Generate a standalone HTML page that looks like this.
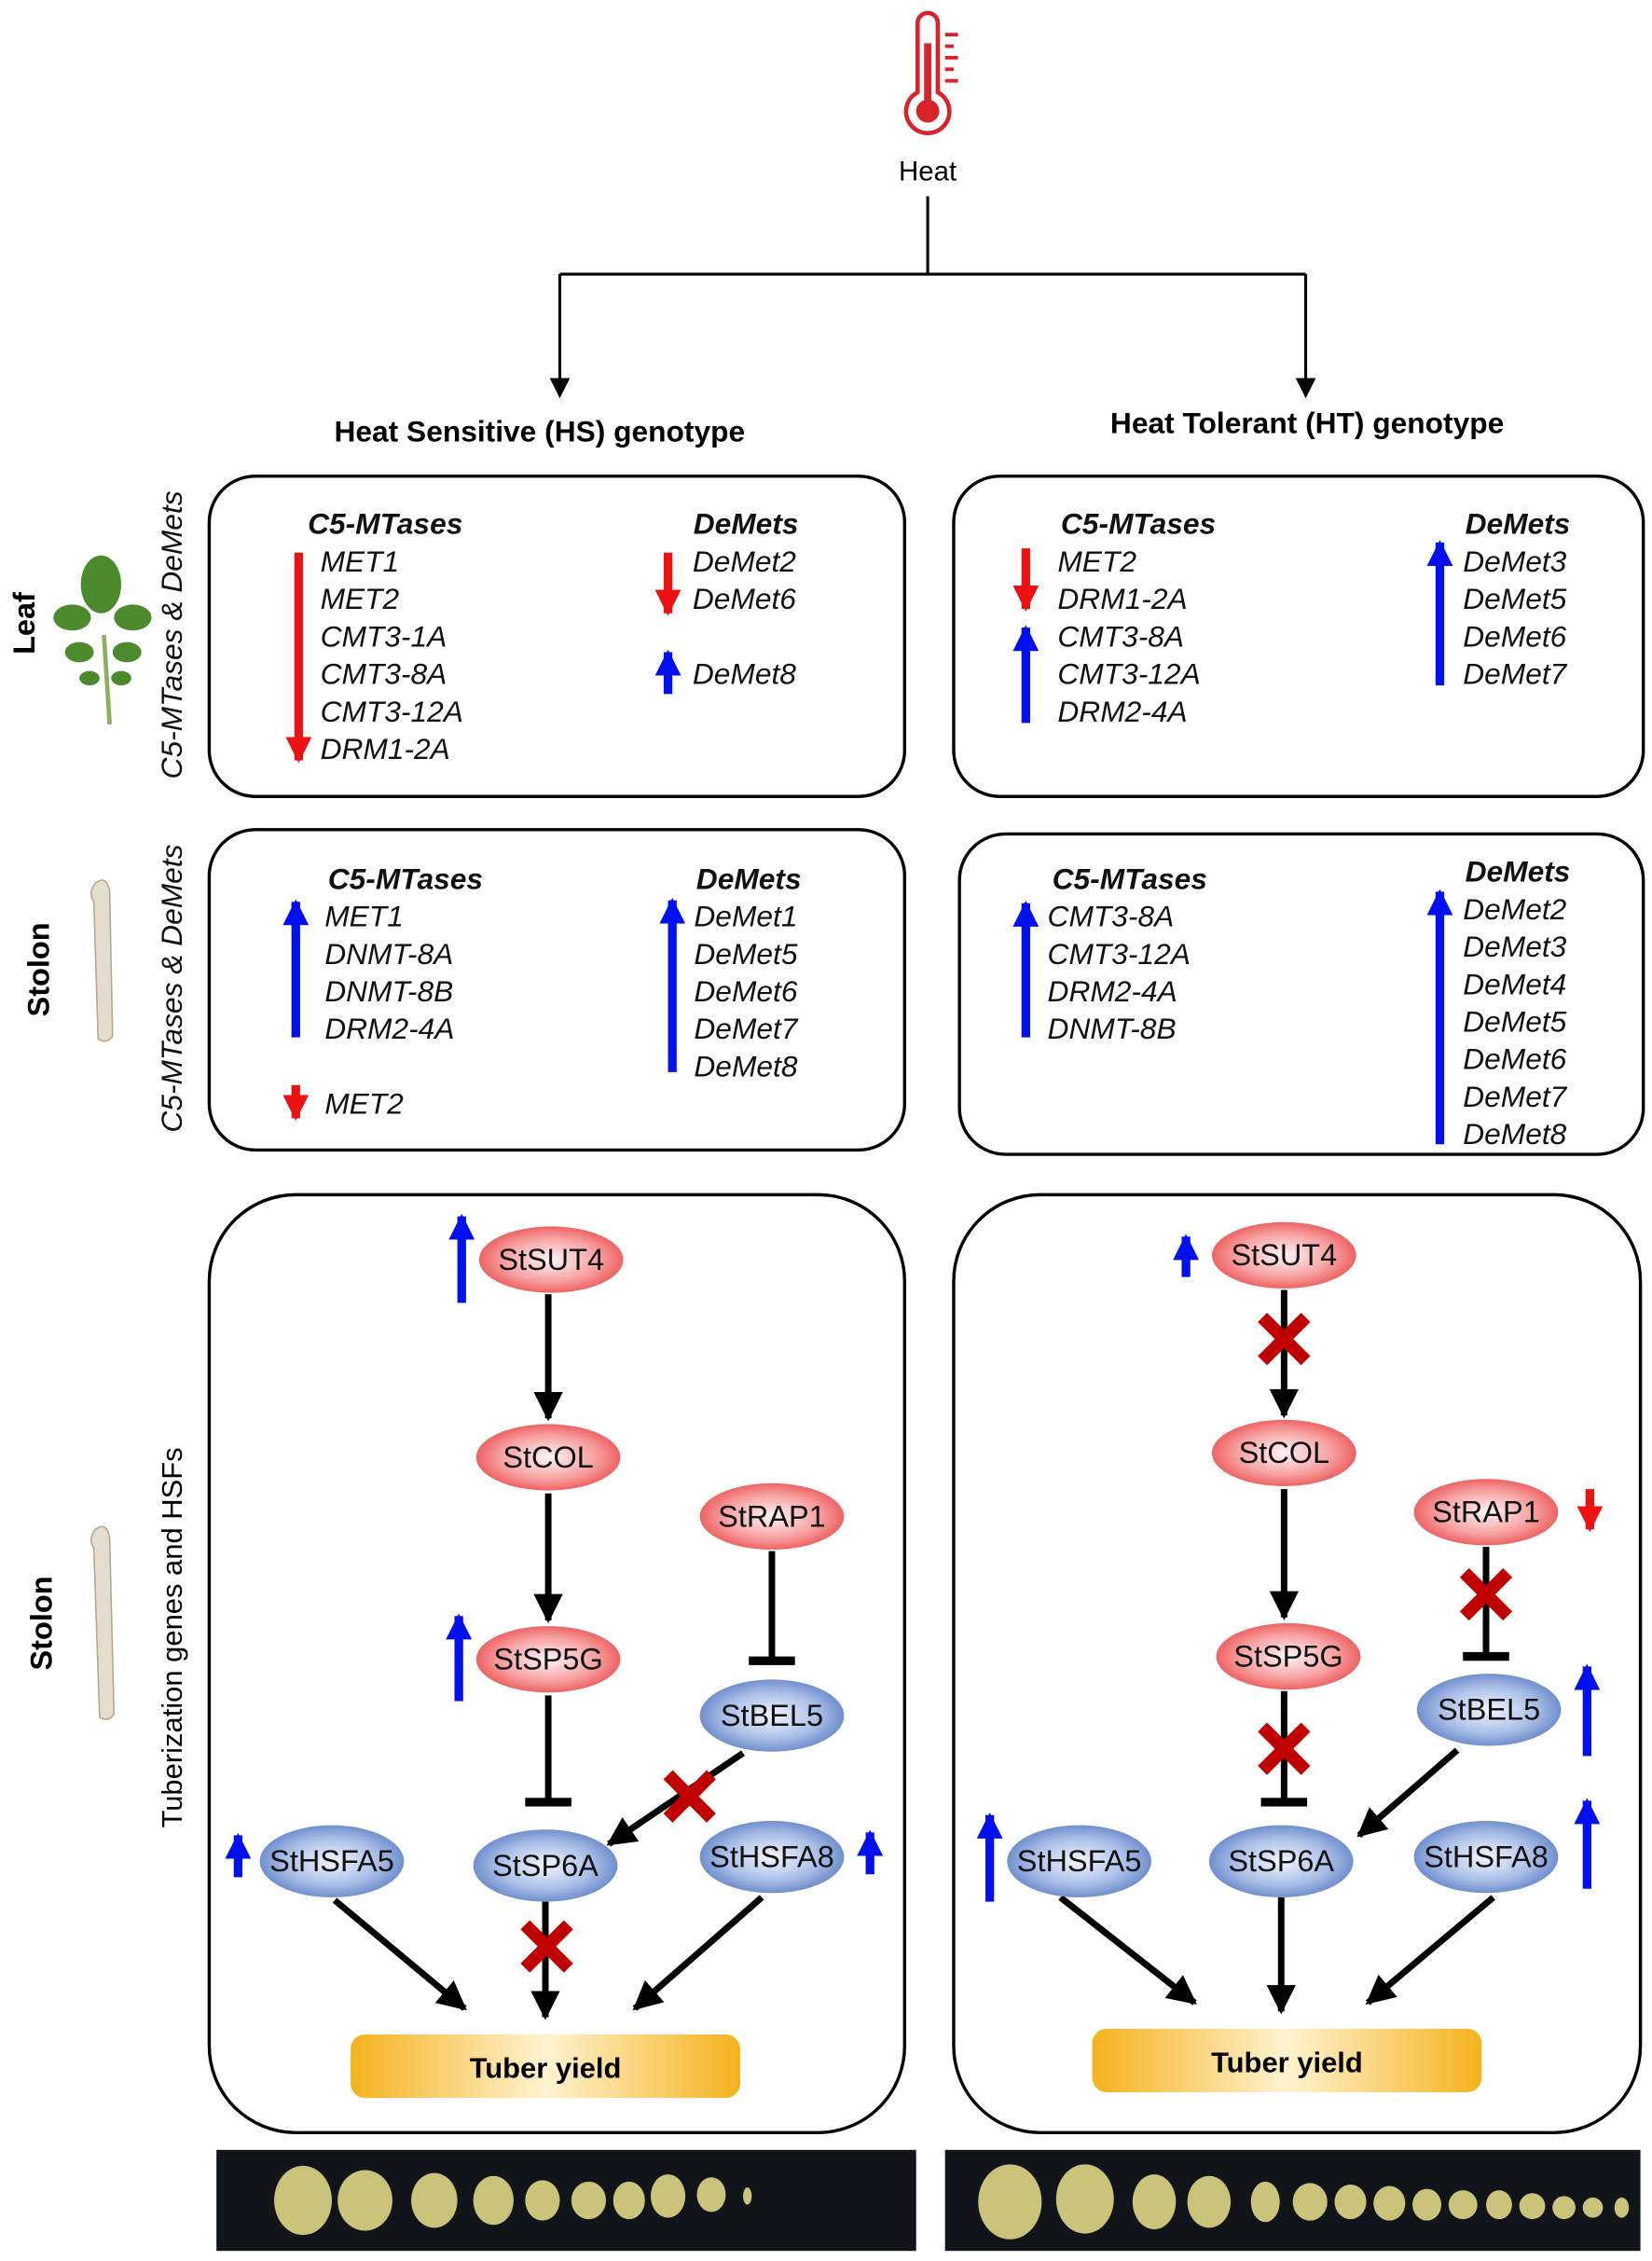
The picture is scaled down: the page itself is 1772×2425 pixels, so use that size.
<!DOCTYPE html>
<html><head><meta charset="utf-8"><style>
html,body{margin:0;padding:0;background:#fff;}
svg{display:block;}
text{font-family:"Liberation Sans",Arial,sans-serif;}
.it{font-style:italic;font-size:20.5px;fill:#111;}
.bi{font-style:italic;font-weight:bold;font-size:20.5px;fill:#111;}
.nd{font-size:21px;fill:#111;text-anchor:middle;}
</style></head><body>
<svg width="1772" height="2425" viewBox="0 0 1145 1567" xmlns="http://www.w3.org/2000/svg">
<defs>
<radialGradient id="rg" cx="50%" cy="50%" r="60%"><stop offset="0" stop-color="#fff4f4"/><stop offset="0.55" stop-color="#f7a0a0"/><stop offset="1" stop-color="#e8403f"/></radialGradient>
<radialGradient id="bg" cx="50%" cy="50%" r="60%"><stop offset="0" stop-color="#f2f6ff"/><stop offset="0.55" stop-color="#a8bde6"/><stop offset="1" stop-color="#4f74bf"/></radialGradient>
<linearGradient id="og" x1="0" y1="0" x2="1" y2="0"><stop offset="0" stop-color="#f5b21e"/><stop offset="0.5" stop-color="#fff3d0"/><stop offset="1" stop-color="#f5b21e"/></linearGradient>
<marker id="ah" viewBox="0 0 10 10" refX="9" refY="5" markerWidth="4.5" markerHeight="4.5" orient="auto"><path d="M0,0L10,5L0,10z" fill="#000"/></marker>
<marker id="ab" viewBox="0 0 10 10" refX="9" refY="5" markerWidth="3" markerHeight="3" orient="auto"><path d="M0,0L10,5L0,10z" fill="#0010ee"/></marker>
<marker id="ar" viewBox="0 0 10 10" refX="9" refY="5" markerWidth="3" markerHeight="3" orient="auto"><path d="M0,0L10,5L0,10z" fill="#ee1111"/></marker>
</defs>

<g fill="none" stroke="#d9232a" stroke-width="3">
<path d="M636,16 a7,7 0 0 1 14,0 v48 a15,15 0 1 1 -14,0 z"/>
</g>
<circle cx="643" cy="77" r="8" fill="#d9232a"/><rect x="640.5" y="30" width="5" height="45" fill="#d9232a"/>
<g stroke="#d9232a" stroke-width="2.5"><line x1="655" y1="24" x2="664" y2="24"/><line x1="655" y1="32" x2="661" y2="32"/><line x1="655" y1="40" x2="664" y2="40"/><line x1="655" y1="48" x2="661" y2="48"/><line x1="655" y1="56" x2="664" y2="56"/></g>
<text x="643" y="125" font-size="19" text-anchor="middle">Heat</text>
<g stroke="#000" stroke-width="2" fill="none">
<path d="M643,136 V190 M388,190 H905 M388,190 V270 M905,190 V270"/>
</g>
<path d="M381,262 L395,262 L388,276z M898,262 L912,262 L905,276z" fill="#000"/>
<text x="374" y="306" font-size="20.5" font-weight="bold" text-anchor="middle">Heat Sensitive (HS) genotype</text>
<text x="906" y="300" font-size="20.5" font-weight="bold" text-anchor="middle">Heat Tolerant (HT) genotype</text>

<g fill="none" stroke="#000" stroke-width="2.2">
<rect x="145" y="330" width="482" height="222" rx="32"/>
<rect x="661" y="330" width="478" height="222" rx="32"/>
<rect x="145" y="575" width="482" height="222" rx="32"/>
<rect x="665" y="578" width="474" height="222" rx="32"/>
<rect x="145" y="828" width="482" height="650" rx="60"/>
<rect x="661" y="828" width="476" height="650" rx="60"/>
</g>

<text transform="translate(24,432) rotate(-90)" font-size="21" font-weight="bold" text-anchor="middle">Leaf</text>
<text transform="translate(126,440) rotate(-90)" class="it" text-anchor="middle">C5-MTases &amp; DeMets</text>
<text transform="translate(34,672) rotate(-90)" font-size="21" font-weight="bold" text-anchor="middle">Stolon</text>
<text transform="translate(126,685) rotate(-90)" class="it" text-anchor="middle">C5-MTases &amp; DeMets</text>
<text transform="translate(36,1125) rotate(-90)" font-size="21" font-weight="bold" text-anchor="middle">Stolon</text>
<text transform="translate(126,1135) rotate(-90)" font-size="20" text-anchor="middle">Tuberization genes and HSFs</text>

<g>
<line x1="72" y1="440" x2="76" y2="502" stroke="#8bb060" stroke-width="3"/>
<g fill="#4d8a2e">
<ellipse cx="70" cy="405" rx="14" ry="20"/>
<ellipse cx="50" cy="428" rx="13" ry="9"/><ellipse cx="92" cy="428" rx="13" ry="9"/>
<ellipse cx="55" cy="452" rx="10" ry="7"/><ellipse cx="88" cy="452" rx="10" ry="7"/>
<ellipse cx="62" cy="470" rx="7" ry="5"/><ellipse cx="84" cy="470" rx="7" ry="5"/>
</g></g>
<g fill="#e4dccd" stroke="#b8a68a" stroke-width="1">
<path d="M66,612 q8,-6 10,6 l2,100 q-4,6 -10,2 l-3,-95 q-4,-6 1,-13z"/>
<path d="M66,1060 q8,-6 10,6 l3,122 q-4,6 -10,2 l-4,-117 q-4,-6 1,-13z"/>
</g>

<text x="267" y="370" class="bi" text-anchor="middle">C5-MTases</text>
<g class="it"><text x="222" y="396">MET1</text><text x="222" y="422">MET2</text><text x="222" y="448">CMT3-1A</text><text x="222" y="474">CMT3-8A</text><text x="222" y="500">CMT3-12A</text><text x="222" y="526">DRM1-2A</text></g>
<line x1="207" y1="383" x2="207" y2="527" stroke="#ee1111" stroke-width="6" marker-end="url(#ar)"/>
<text x="517" y="370" class="bi" text-anchor="middle">DeMets</text>
<g class="it"><text x="480" y="396">DeMet2</text><text x="480" y="422">DeMet6</text><text x="480" y="474">DeMet8</text></g>
<line x1="463" y1="383" x2="463" y2="425" stroke="#ee1111" stroke-width="6" marker-end="url(#ar)"/>
<line x1="463" y1="481" x2="463" y2="452" stroke="#0010ee" stroke-width="6" marker-end="url(#ab)"/>

<text x="789" y="370" class="bi" text-anchor="middle">C5-MTases</text>
<g class="it"><text x="733" y="396">MET2</text><text x="733" y="422">DRM1-2A</text><text x="733" y="448">CMT3-8A</text><text x="733" y="474">CMT3-12A</text><text x="733" y="500">DRM2-4A</text></g>
<line x1="711" y1="380" x2="711" y2="422" stroke="#ee1111" stroke-width="6" marker-end="url(#ar)"/>
<line x1="711" y1="501" x2="711" y2="435" stroke="#0010ee" stroke-width="6" marker-end="url(#ab)"/>
<text x="1052" y="370" class="bi" text-anchor="middle">DeMets</text>
<g class="it"><text x="1014" y="396">DeMet3</text><text x="1014" y="422">DeMet5</text><text x="1014" y="448">DeMet6</text><text x="1014" y="474">DeMet7</text></g>
<line x1="998" y1="475" x2="998" y2="376" stroke="#0010ee" stroke-width="6" marker-end="url(#ab)"/>

<text x="281" y="616" class="bi" text-anchor="middle">C5-MTases</text>
<g class="it"><text x="225" y="642">MET1</text><text x="225" y="668">DNMT-8A</text><text x="225" y="694">DNMT-8B</text><text x="225" y="720">DRM2-4A</text><text x="225" y="772">MET2</text></g>
<line x1="205" y1="719" x2="205" y2="625" stroke="#0010ee" stroke-width="6" marker-end="url(#ab)"/>
<line x1="205" y1="752" x2="205" y2="775" stroke="#ee1111" stroke-width="6" marker-end="url(#ar)"/>
<text x="519" y="616" class="bi" text-anchor="middle">DeMets</text>
<g class="it"><text x="481" y="642">DeMet1</text><text x="481" y="668">DeMet5</text><text x="481" y="694">DeMet6</text><text x="481" y="720">DeMet7</text><text x="481" y="746">DeMet8</text></g>
<line x1="466" y1="743" x2="466" y2="624" stroke="#0010ee" stroke-width="6" marker-end="url(#ab)"/>

<text x="783" y="616" class="bi" text-anchor="middle">C5-MTases</text>
<g class="it"><text x="726" y="642">CMT3-8A</text><text x="726" y="668">CMT3-12A</text><text x="726" y="694">DRM2-4A</text><text x="726" y="720">DNMT-8B</text></g>
<line x1="711" y1="719" x2="711" y2="626" stroke="#0010ee" stroke-width="6" marker-end="url(#ab)"/>
<text x="1052" y="611" class="bi" text-anchor="middle">DeMets</text>
<g class="it"><text x="1014" y="637">DeMet2</text><text x="1014" y="663">DeMet3</text><text x="1014" y="689">DeMet4</text><text x="1014" y="715">DeMet5</text><text x="1014" y="741">DeMet6</text><text x="1014" y="767">DeMet7</text><text x="1014" y="793">DeMet8</text></g>
<line x1="998" y1="793" x2="998" y2="618" stroke="#0010ee" stroke-width="6" marker-end="url(#ab)"/>

<g stroke="#000" stroke-width="4.5" fill="none">
<line x1="380" y1="897" x2="380" y2="983" marker-end="url(#ah)"/>
<line x1="380" y1="1035" x2="380" y2="1123" marker-end="url(#ah)"/>
<line x1="380" y1="1175" x2="380" y2="1248"/><line x1="364" y1="1249" x2="396" y2="1249" stroke-width="6"/>
<line x1="535" y1="1075" x2="535" y2="1150"/><line x1="519" y1="1151" x2="551" y2="1151" stroke-width="6"/>
<line x1="515" y1="1215" x2="422" y2="1278" marker-end="url(#ah)"/>
<line x1="378" y1="1318" x2="378" y2="1398" marker-end="url(#ah)"/>
<line x1="232" y1="1317" x2="322" y2="1392" marker-end="url(#ah)"/>
<line x1="528" y1="1315" x2="440" y2="1392" marker-end="url(#ah)"/>
</g>
<ellipse cx="382" cy="873" rx="50" ry="23" fill="url(#rg)"/>
<ellipse cx="380" cy="1010" rx="50" ry="23" fill="url(#rg)"/>
<ellipse cx="535" cy="1051" rx="50" ry="23" fill="url(#rg)"/>
<ellipse cx="380" cy="1150" rx="50" ry="23" fill="url(#rg)"/>
<ellipse cx="535" cy="1189" rx="50" ry="25" fill="url(#bg)"/>
<ellipse cx="378" cy="1293" rx="50" ry="25" fill="url(#bg)"/>
<ellipse cx="230" cy="1290" rx="50" ry="25" fill="url(#bg)"/>
<ellipse cx="535" cy="1287" rx="50" ry="25" fill="url(#bg)"/>
<text x="382" y="880" class="nd">StSUT4</text><text x="380" y="1017" class="nd">StCOL</text><text x="535" y="1058" class="nd">StRAP1</text><text x="380" y="1157" class="nd">StSP5G</text><text x="535" y="1196" class="nd">StBEL5</text><text x="378" y="1300" class="nd">StSP6A</text><text x="230" y="1297" class="nd">StHSFA5</text><text x="535" y="1294" class="nd">StHSFA8</text>
<rect x="243" y="1410" width="270" height="44" rx="10" fill="url(#og)"/>
<text x="378" y="1440" font-size="20" font-weight="bold" text-anchor="middle">Tuber yield</text>
<g stroke="#0010ee" stroke-width="6">
<line x1="320" y1="903" x2="320" y2="843" marker-end="url(#ab)"/>
<line x1="318" y1="1179" x2="318" y2="1120" marker-end="url(#ab)"/>
<line x1="165" y1="1301" x2="165" y2="1272" marker-end="url(#ab)"/>
<line x1="603" y1="1299" x2="603" y2="1270" marker-end="url(#ab)"/>
</g>
<g stroke="#c00000" stroke-width="9">
<path d="M463,1230 L493,1260 M493,1230 L463,1260"/>
<path d="M364,1334 L394,1364 M394,1334 L364,1364"/>
</g>

<g stroke="#000" stroke-width="4.5" fill="none">
<line x1="890" y1="894" x2="890" y2="981" marker-end="url(#ah)"/>
<line x1="890" y1="1032" x2="890" y2="1121" marker-end="url(#ah)"/>
<line x1="890" y1="1172" x2="890" y2="1248"/><line x1="874" y1="1249" x2="906" y2="1249" stroke-width="6"/>
<line x1="1030" y1="1072" x2="1030" y2="1147"/><line x1="1014" y1="1148" x2="1046" y2="1148" stroke-width="6"/>
<line x1="1010" y1="1213" x2="942" y2="1272" marker-end="url(#ah)"/>
<line x1="888" y1="1315" x2="888" y2="1394" marker-end="url(#ah)"/>
<line x1="735" y1="1315" x2="828" y2="1388" marker-end="url(#ah)"/>
<line x1="1035" y1="1315" x2="948" y2="1388" marker-end="url(#ah)"/>
</g>
<ellipse cx="890" cy="870" rx="50" ry="23" fill="url(#rg)"/>
<ellipse cx="890" cy="1007" rx="50" ry="23" fill="url(#rg)"/>
<ellipse cx="1030" cy="1048" rx="50" ry="23" fill="url(#rg)"/>
<ellipse cx="893" cy="1148" rx="50" ry="23" fill="url(#rg)"/>
<ellipse cx="1032" cy="1185" rx="50" ry="25" fill="url(#bg)"/>
<ellipse cx="888" cy="1290" rx="50" ry="25" fill="url(#bg)"/>
<ellipse cx="748" cy="1290" rx="50" ry="25" fill="url(#bg)"/>
<ellipse cx="1030" cy="1287" rx="50" ry="25" fill="url(#bg)"/>
<text x="890" y="877" class="nd">StSUT4</text><text x="890" y="1014" class="nd">StCOL</text><text x="1030" y="1055" class="nd">StRAP1</text><text x="893" y="1155" class="nd">StSP5G</text><text x="1032" y="1192" class="nd">StBEL5</text><text x="888" y="1297" class="nd">StSP6A</text><text x="748" y="1297" class="nd">StHSFA5</text><text x="1030" y="1294" class="nd">StHSFA8</text>
<rect x="757" y="1406" width="270" height="44" rx="10" fill="url(#og)"/>
<text x="892" y="1436" font-size="20" font-weight="bold" text-anchor="middle">Tuber yield</text>
<g stroke="#0010ee" stroke-width="6">
<line x1="822" y1="885" x2="822" y2="857" marker-end="url(#ab)"/>
<line x1="1100" y1="1217" x2="1100" y2="1155" marker-end="url(#ab)"/>
<line x1="1100" y1="1309" x2="1100" y2="1248" marker-end="url(#ab)"/>
<line x1="686" y1="1318" x2="686" y2="1258" marker-end="url(#ab)"/>
</g>
<line x1="1102" y1="1032" x2="1102" y2="1060" stroke="#ee1111" stroke-width="6" marker-end="url(#ar)"/>
<g stroke="#c00000" stroke-width="9">
<path d="M875,913 L905,943 M905,913 L875,943"/>
<path d="M875,1197 L905,1227 M905,1197 L875,1227"/>
<path d="M1015,1090 L1045,1120 M1045,1090 L1015,1120"/>
</g>

<rect x="150" y="1490" width="485" height="70" fill="#111418"/>
<rect x="655" y="1490" width="482" height="70" fill="#111418"/>
<g fill="#c9c47a">
<ellipse cx="210" cy="1525" rx="20" ry="24"/><ellipse cx="253" cy="1525" rx="19" ry="21"/><ellipse cx="301" cy="1525" rx="16" ry="19"/><ellipse cx="342" cy="1525" rx="14" ry="17"/><ellipse cx="376" cy="1525" rx="12" ry="14"/><ellipse cx="408" cy="1525" rx="12" ry="13"/><ellipse cx="436" cy="1525" rx="11" ry="13"/><ellipse cx="463" cy="1522" rx="12" ry="15"/><ellipse cx="493" cy="1521" rx="10" ry="12"/><ellipse cx="518" cy="1522" rx="3" ry="6"/>
<ellipse cx="700" cy="1526" rx="22" ry="26"/><ellipse cx="752" cy="1524" rx="20" ry="24"/><ellipse cx="800" cy="1526" rx="15" ry="19"/><ellipse cx="838" cy="1526" rx="15" ry="18"/><ellipse cx="877" cy="1526" rx="10" ry="14"/><ellipse cx="908" cy="1526" rx="12" ry="13"/><ellipse cx="936" cy="1526" rx="11" ry="12"/><ellipse cx="963" cy="1527" rx="11" ry="12"/><ellipse cx="989" cy="1528" rx="10" ry="11"/><ellipse cx="1014" cy="1528" rx="10" ry="10"/><ellipse cx="1039" cy="1528" rx="9" ry="10"/><ellipse cx="1062" cy="1529" rx="9" ry="9"/><ellipse cx="1084" cy="1530" rx="8" ry="8"/><ellipse cx="1104" cy="1530" rx="7" ry="7"/><ellipse cx="1124" cy="1530" rx="5" ry="7"/>
</g>
</svg>
</body></html>
